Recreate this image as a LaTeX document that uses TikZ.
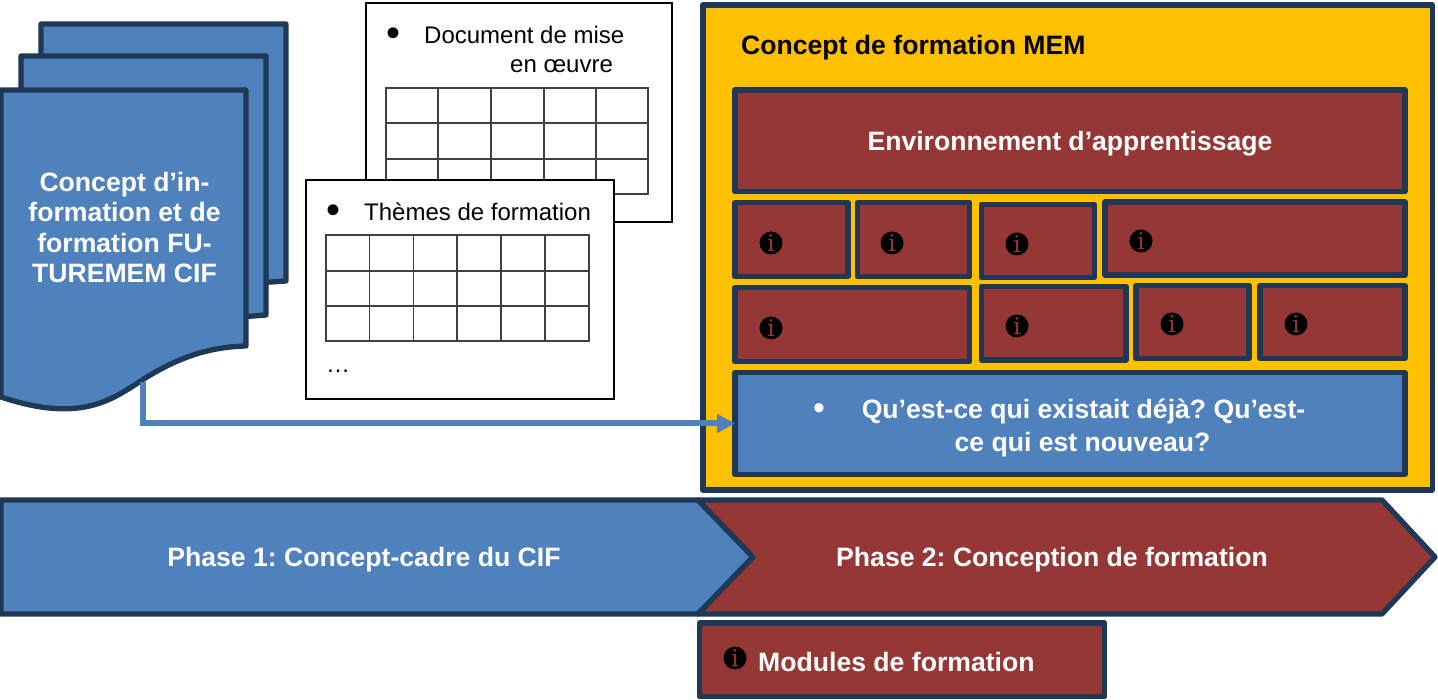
\documentclass[tikz,border=0pt]{standalone}
\usepackage{fontspec}
\setmainfont{Liberation Sans}
\newfontfamily\serifi{DejaVu Serif}
\usetikzlibrary{fit,arrows.meta}
\definecolor{cblue}{HTML}{4F81BD}
\definecolor{cred}{HTML}{953735}
\definecolor{cdark}{HTML}{1F3855}
\definecolor{cgold}{HTML}{FFC000}
\definecolor{cgrid}{HTML}{404040}
\frenchspacing
\tikzset{
  shp/.style={draw=cdark,line width=5.3pt,line join=round},
  bluefill/.style={shp,fill=cblue},
  redbox/.style={shp,fill=cred,inner sep=0pt,outer sep=0pt},
  bluebox/.style={shp,fill=cblue,inner sep=0pt,outer sep=0pt},
  goldbox/.style={shp,fill=cgold,inner sep=0pt,outer sep=0pt},
  sheet/.style={draw=black,line width=1.3pt,fill=white,inner sep=0pt,outer sep=0pt},
  grid line/.style={draw=cgrid,line width=1.3pt},
  info/.style={circle,fill=black,inner sep=0pt,minimum size=23pt,text=cred,font=\serifi\fontsize{23}{23}\selectfont},
  wbold/.style={text=white,font=\bfseries\fontsize{26.6}{30.5}\selectfont,inner sep=0pt},
  kbold/.style={text=black,font=\bfseries\fontsize{26.6}{30}\selectfont,inner sep=0pt},
  plain/.style={text=black,font=\fontsize{24}{29}\selectfont,inner sep=0pt},
  connector/.style={draw=cblue,line width=6pt,-{Triangle[length=18pt,width=18pt]}},
}
\begin{document}
\begin{tikzpicture}[x=1pt,y=-1pt]
\useasboundingbox (0,0) rectangle (1438,700);
% stacked documents
\path[bluefill] (41,24) -- (286,24) -- (286,281) -- (240,284) -- (41,300) -- cycle;
\path[bluefill] (21,56) -- (266,56) -- (266,315) -- (240,317) -- (21,330) -- cycle;
\path[bluefill] (1,90) -- (246,90) -- (246,346)
  .. controls (205,347) and (175,360) .. (147,377)
  .. controls (115,397) and (85,425) .. (1,397) -- cycle;
\node (doctext) [wbold,align=center,anchor=base] at (124.5,283) {Concept d’in-\\formation et de\\formation FU-\\TUREMEM CIF};
\coordinate (docfoot) at (143,382);
% sheets
\node (sheetA) [sheet,fit={(366,3)(672,222)}] {};
\node (bulA) [plain,anchor=center,font=\fontsize{40}{40}\selectfont] at (393,37) {•};
\node (txtA1) [plain,anchor=base west] at (424,44) {Document de mise};
\node (txtA2) [plain,anchor=base west] at (510,73) {en œuvre};
\draw[grid line] (386,88) rectangle (648,194)
  (386,123) -- (648,123) (386,159) -- (648,159)
  (438,88) -- (438,194) (491,88) -- (491,194) (544,88) -- (544,194) (596,88) -- (596,194);
\node (sheetB) [sheet,fit={(306,180)(614,399)}] {};
\node (bulB) [plain,anchor=center,font=\fontsize{40}{40}\selectfont] at (333,214) {•};
\node (txtB1) [plain,anchor=base west] at (364,221) {Thèmes de formation};
\draw[grid line] (326,235) rectangle (589,341)
  (326,271) -- (589,271) (326,306) -- (589,306)
  (369.5,235) -- (369.5,341) (413.5,235) -- (413.5,341) (457,235) -- (457,341) (501,235) -- (501,341) (545,235) -- (545,341);
\node (dots) [plain,anchor=base west] at (326,373) {…};
% concept box
\node (mem) [goldbox,fit={(703,5)(1432.5,490)}] {};
\node (memtitle) [kbold,anchor=base west] at (741,55) {Concept de formation MEM};
\node (env) [redbox,fit={(735,90)(1405,191.5)}] {};
\node (envtext) [wbold,anchor=base] at (1070,151) {Environnement d’apprentissage};
\node (r1a) [redbox,fit={(735,202.5)(848,276.5)}] {};
\node (r1b) [redbox,fit={(857.5,202.5)(969.5,276.5)}] {};
\node (r1c) [redbox,fit={(981.5,204.5)(1094.5,277.5)}] {};
\node (r1d) [redbox,fit={(1105,202)(1405,275)}] {};
\node (r2a) [redbox,fit={(735,287.5)(969.5,361.5)}] {};
\node (r2b) [redbox,fit={(981.5,286.5)(1126,360)}] {};
\node (r2c) [redbox,fit={(1136,285.5)(1249,358.5)}] {};
\node (r2d) [redbox,fit={(1260,285.5)(1405,358.5)}] {};
\node (i1) [info] at (771,243) {i};
\node (i2) [info] at (892,243) {i};
\node (i3) [info] at (1017,244) {i};
\node (i4) [info] at (1141,241) {i};
\node (i5) [info] at (771,328) {i};
\node (i6) [info] at (1017,326) {i};
\node (i7) [info] at (1172,324) {i};
\node (i8) [info] at (1296,324) {i};
\node (qe) [bluebox,fit={(735,372.5)(1405,474.5)}] {};
\node (bulQ) [wbold,anchor=center,font=\fontsize{34}{34}\selectfont] at (819,412) {•};
\node (qe1) [wbold,anchor=base] at (1083.5,419) {Qu’est-ce qui existait déjà? Qu’est-};
\node (qe2) [wbold,anchor=base] at (1082.5,451) {ce qui est nouveau?};
\draw[connector] (docfoot) |- (qe.west);
% phases
\path[bluefill] (1,500) -- (698,500) -- (753,557) -- (698,614) -- (1,614) -- cycle;
\path[shp,fill=cred] (698,500) -- (1382,500) -- (1435,557) -- (1382,614) -- (698,614) -- (753,557) -- cycle;
\node (ph1) [wbold,anchor=base] at (364,566) {Phase 1: Concept-cadre du CIF};
\node (ph2) [wbold,anchor=base] at (1052,566) {Phase 2: Conception de formation};
% modules
\node (mod) [redbox,fit={(699.5,623)(1104.5,696.5)}] {};
\node (i9) [info] at (735,658) {i};
\node (modtext) [wbold,anchor=base west] at (758,671) {Modules de formation};
\end{tikzpicture}
\end{document}
